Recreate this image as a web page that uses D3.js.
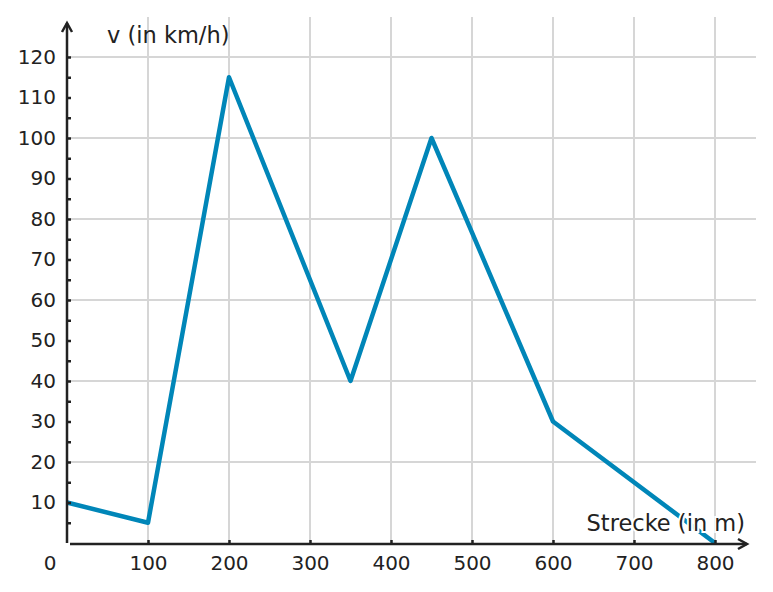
<!DOCTYPE html>
<html>
<head>
<meta charset="utf-8">
<script src="https://cdn.jsdelivr.net/npm/d3@7"></script>
<style>
  body { margin: 0; background: #fff; }
  svg { display: block; font-family: "DejaVu Sans", sans-serif; }
</style>
</head>
<body>
<div id="chart"></div>
<script>
// data
const strecke = [0, 100, 200, 350, 450, 600, 800];
const speed = [10, 5, 115, 40, 100, 30, 0];
const xTicks = [100, 200, 300, 400, 500, 600, 700, 800];
const yTicks = d3.range(5, 125, 5);
const yGrid = [20, 40, 60, 80, 100, 120];

const width = 773, height = 592;
const ink = "#222";

const svg = d3.select("#chart")
  .append("svg")
    .attr("width", width)
    .attr("height", height);

const xScale = d3.scaleLinear().domain([0, 800]).range([67, 715]);
const yScale = d3.scaleLinear().domain([0, 120]).range([543, 57]);

// grid
svg.append("g")
  .selectAll("line")
  .data(xTicks)
  .join("line")
    .attr("x1", d => xScale(d))
    .attr("x2", d => xScale(d))
    .attr("y1", 17)
    .attr("y2", yScale(0))
    .attr("stroke", "#d6d6d6")
    .attr("stroke-width", 2);

svg.append("g")
  .selectAll("line")
  .data(yGrid)
  .join("line")
    .attr("x1", xScale(0))
    .attr("x2", 756)
    .attr("y1", d => yScale(d))
    .attr("y2", d => yScale(d))
    .attr("stroke", "#d6d6d6")
    .attr("stroke-width", 2);

// the line
const line = d3.line()
  .x((d, i) => xScale(strecke[i]))
  .y(d => yScale(d));

svg.append("path")
  .datum(speed)
  .attr("d", line)
  .attr("fill", "none")
  .attr("stroke", "#0086b8")
  .attr("stroke-width", 4.5)
  .attr("stroke-linejoin", "round");

// axes
const leftAxis = d3.axisLeft(yScale)
  .tickValues(yTicks)
  .tickSize(-4)
  .tickPadding(11)
  .tickFormat(d => d % 10 === 0 ? d : "")
  .tickSizeOuter(0);

const yAxisG = svg.append("g")
  .attr("transform", `translate(${xScale(0)}, 0)`)
  .call(leftAxis);

const bottomAxis = d3.axisBottom(xScale)
  .tickValues(xTicks)
  .tickSize(-4)
  .tickPadding(12)
  .tickSizeOuter(0);

const xAxisG = svg.append("g")
  .attr("transform", `translate(0, ${yScale(0) + 1})`)
  .call(bottomAxis);

[yAxisG, xAxisG].forEach(g => {
  g.select(".domain").remove();
  g.selectAll(".tick line").attr("stroke", ink).attr("stroke-width", 2.5);
  g.selectAll(".tick text")
    .attr("fill", ink)
    .attr("font-size", 20)
    .attr("font-family", "DejaVu Sans, sans-serif");
});

// axis lines with open arrow heads
svg.append("line")
  .attr("x1", xScale(0)).attr("x2", xScale(0))
  .attr("y1", yScale(0)).attr("y2", 23)
  .attr("stroke", ink).attr("stroke-width", 2.5);
svg.append("path")
  .attr("d", `M${xScale(0) - 5},${32} L${xScale(0)},${23} L${xScale(0) + 5},${32}`)
  .attr("fill", "none").attr("stroke", ink).attr("stroke-width", 2.5);

svg.append("line")
  .attr("x1", xScale(0) + 3).attr("x2", 747)
  .attr("y1", yScale(0) + 1).attr("y2", yScale(0) + 1)
  .attr("stroke", ink).attr("stroke-width", 2.5);
svg.append("path")
  .attr("d", `M738,${yScale(0) - 4} L747,${yScale(0) + 1} L738,${yScale(0) + 6}`)
  .attr("fill", "none").attr("stroke", ink).attr("stroke-width", 2.5);

// origin label
svg.append("text")
  .attr("x", 50).attr("y", 570)
  .attr("text-anchor", "middle")
  .attr("font-size", 20)
  .attr("fill", ink)
  .text("0");

// axis titles
svg.append("text")
  .attr("x", 107).attr("y", 43)
  .attr("font-size", 22.5)
  .attr("fill", ink)
  .text("v (in km/h)");

svg.append("text")
  .attr("x", 745).attr("y", 531)
  .attr("text-anchor", "end")
  .attr("font-size", 22.5)
  .attr("fill", ink)
  .attr("stroke", "#fff")
  .attr("stroke-width", 4)
  .attr("paint-order", "stroke")
  .text("Strecke (in m)");
</script>
</body>
</html>
